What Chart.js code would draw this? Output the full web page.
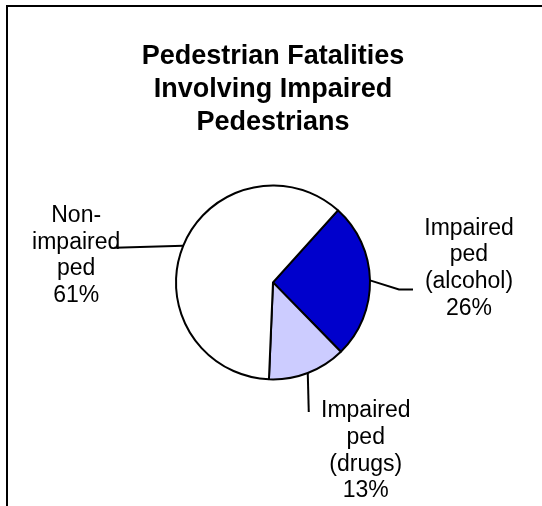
<!DOCTYPE html>
<html>
<head>
<meta charset="utf-8">
<script src="https://cdn.jsdelivr.net/npm/chart.js@4/dist/chart.umd.min.js"></script>
<style>
    html, body { margin: 0; padding: 0; background: #fff; }
    #wrap { position: relative; width: 542px; height: 506px; }
</style>
</head>
<body>
<div id="wrap"><canvas id="chartPie" width="542" height="506"></canvas></div>
<script>
/* --- datos ------------------------------------------------------------- */
const categorias = [
    ['Impaired', 'ped', '(alcohol)'],
    ['Impaired', 'ped', '(drugs)'],
    ['Non-', 'impaired', 'ped']
];
const porcentajes = [26, 13, 61];
const colores = ['#0000CC', '#CCCCFF', '#FFFFFF'];
const titulo = ['Pedestrian Fatalities', 'Involving Impaired', 'Pedestrians'];

/* posicion de las etiquetas respecto al punto medio del arco (px) */
const guias = [
    { linea: [[29, 9], [43, 9]], texto: [99, -12] },
    { linea: [[1, 39]], texto: [58, 78] },
    { linea: [[-69, 2]], texto: [-107, 10] }
];

/* --- plugins ------------------------------------------------------------ */
const marco = {
    id: 'marco',
    beforeDraw(chart) {
        const ctx = chart.ctx;
        ctx.save();
        ctx.strokeStyle = '#000';
        ctx.lineWidth = 2;
        ctx.beginPath();
        ctx.moveTo(7, chart.height);
        ctx.lineTo(7, 6);
        ctx.lineTo(chart.width, 6);
        ctx.stroke();
        ctx.restore();
    }
};

const etiquetas = {
    id: 'etiquetas',
    afterDatasetsDraw(chart) {
        const ctx = chart.ctx;
        const meta = chart.getDatasetMeta(0);
        ctx.save();
        meta.data.forEach((arc, i) => {
            const p = arc.getProps(['x', 'y', 'startAngle', 'endAngle', 'outerRadius']);
            const mid = (p.startAngle + p.endAngle) / 2;
            const mx = p.x + Math.cos(mid) * p.outerRadius;
            const my = p.y + Math.sin(mid) * p.outerRadius;
            const g = guias[i];

            ctx.strokeStyle = '#000';
            ctx.lineWidth = 2;
            ctx.beginPath();
            ctx.moveTo(mx, my);
            g.linea.forEach(([dx, dy]) => ctx.lineTo(mx + dx, my + dy));
            ctx.stroke();

            const lineas = chart.data.labels[i].concat([porcentajes[i] + '%']);
            const lh = 26.7;
            const cx = mx + g.texto[0];
            const cy = my + g.texto[1] - (lineas.length - 1) * lh / 2;
            ctx.fillStyle = '#000';
            ctx.font = '23px "Liberation Sans", Arial, sans-serif';
            ctx.textAlign = 'center';
            ctx.textBaseline = 'middle';
            lineas.forEach((t, k) => ctx.fillText(t, cx, cy + k * lh));
        });
        ctx.restore();
    }
};

/* --- grafica ------------------------------------------------------------ */
new Chart(document.getElementById('chartPie'), {
    type: 'pie',
    data: {
        labels: categorias,
        datasets: [{
            data: porcentajes,
            backgroundColor: colores,
            borderColor: '#000',
            borderWidth: 2,
            radius: 97
        }]
    },
    options: {
        responsive: false,
        animation: false,
        rotation: 42,
        layout: { padding: { left: 4, right: 0, top: 0, bottom: 80 } },
        plugins: {
            legend: { display: false },
            tooltip: { enabled: false },
            title: {
                display: true,
                text: titulo,
                color: '#000',
                font: { family: '"Liberation Sans", Arial, sans-serif', size: 27, weight: 'bold', lineHeight: 1.22 },
                padding: { top: 40, bottom: 0 }
            }
        }
    },
    plugins: [marco, etiquetas]
});
</script>
</body>
</html>
